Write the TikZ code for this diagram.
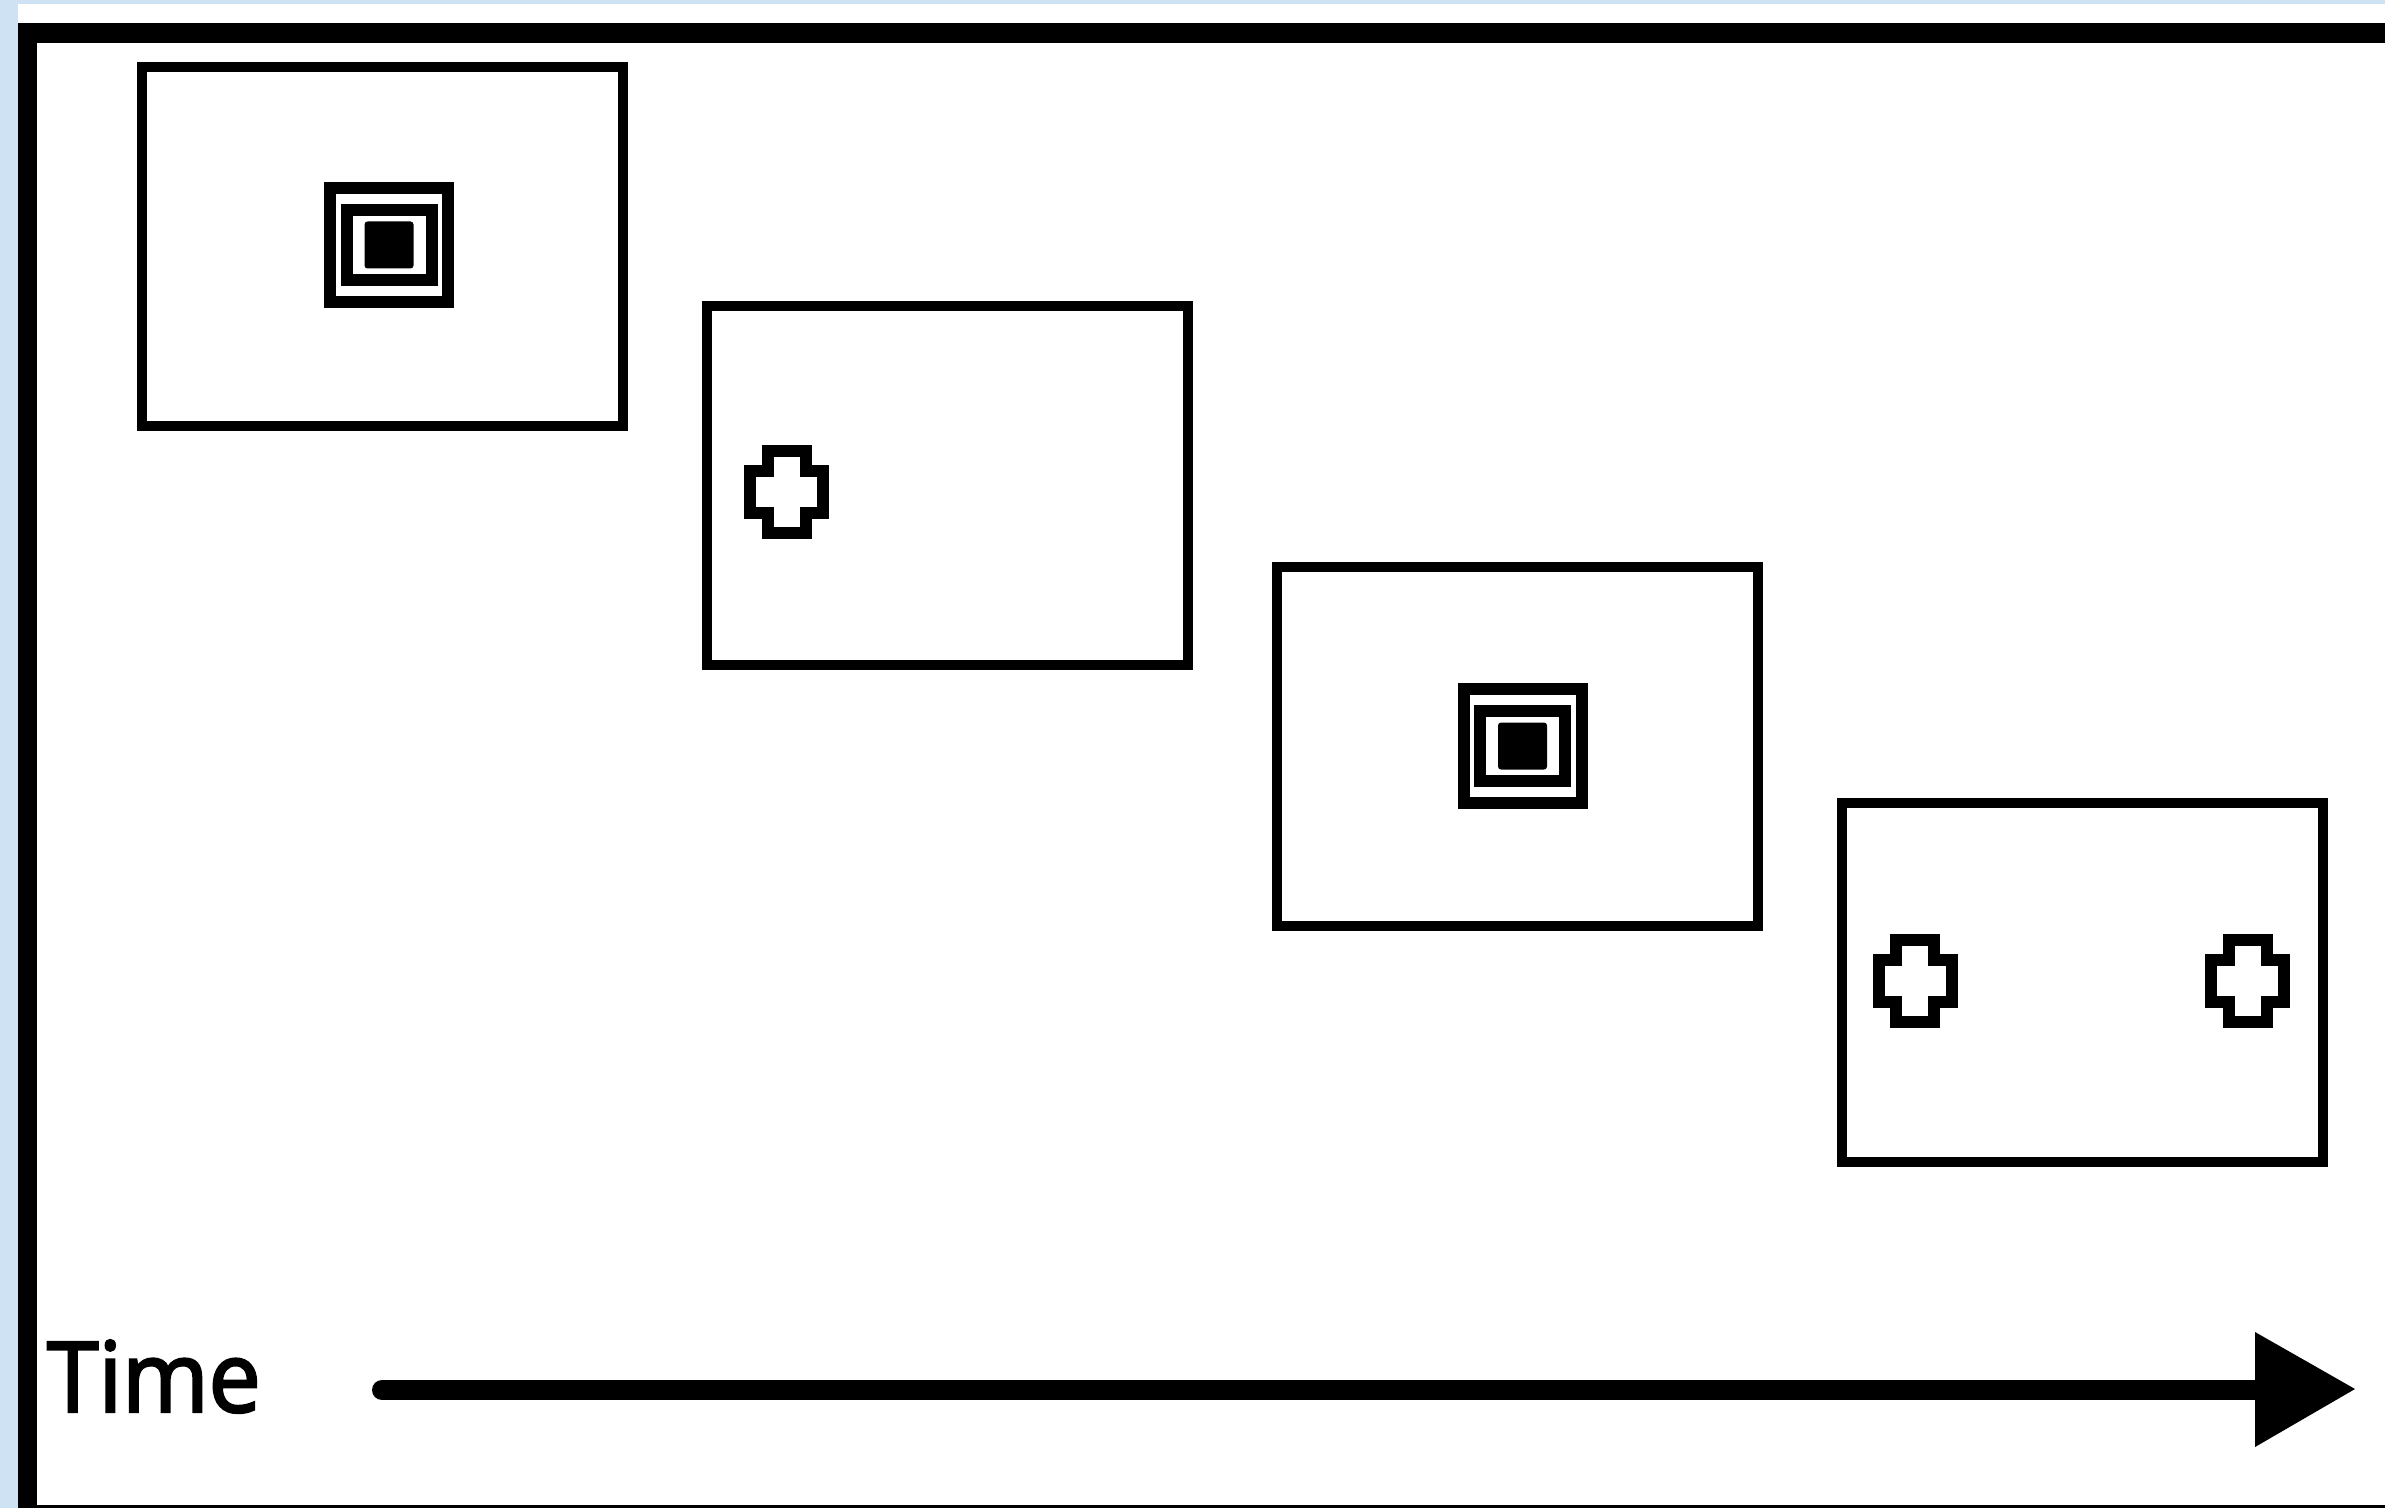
\documentclass[tikz,border=0pt]{standalone}
\usepackage{fontspec}
\setmainfont{Open Sans}
\newfontfamily\timefont[FakeBold=2.5,FakeStretch=0.95]{Open Sans}
\definecolor{bgblue}{RGB}{207,226,243}
\begin{document}
\begin{tikzpicture}[x=0.5pt,y=-0.5pt,
  screen/.style={draw=black, line width=5pt, minimum width=240.5pt, minimum height=179.5pt,
    inner sep=0pt, outer sep=0pt, anchor=north west, fill=white},
  thickline/.style={line width=6pt, draw=black},
  target/.pic={
    \draw[thickline] (-59,-57) rectangle (59,57);
    \draw[thickline] (-42.5,-35) rectangle (42.5,35);
    \fill[black, rounded corners=1.5pt] (-24.5,-23.5) rectangle (24.5,23.5);
  },
  crossmark/.pic={
    \draw[thickline] (-19,-41) -- (19,-41) -- (19,-21) -- (36.5,-21) -- (36.5,21) -- (19,21)
      -- (19,41) -- (-19,41) -- (-19,21) -- (-36.5,21) -- (-36.5,-21) -- (-19,-21) -- cycle;
  },
  timelabel/.style={font=\timefont\fontsize{49}{52}\selectfont, inner sep=0pt, outer sep=0pt, anchor=base west}
]
\useasboundingbox (0,0) rectangle (2385,1508);
% background and frame
\fill[bgblue] (0,0) rectangle (2385,1508);
\fill[white] (18,4) rectangle (2385,1508);
\fill[black] (18,23) rectangle (2385,43);
\fill[black] (18,23) rectangle (37,1508);
\fill[black] (18,1505) rectangle (2385,1508);

% screens
\node[screen] (s1) at (142,67) {};
\node[screen] (s2) at (707,306) {};
\node[screen] (s3) at (1277,567) {};
\node[screen] (s4) at (1842,803) {};

% symbols
\pic (t1) at (389,245) {target};
\pic (c1) at (786.5,492) {crossmark};
\pic (t3) at (1522.5,746) {target};
\pic (c4a) at (1915,981) {crossmark};
\pic (c4b) at (2247.5,981) {crossmark};

% time axis
\node[timelabel] (time) at (47,1412) {Time};
\coordinate (axs) at (382,1390);
\coordinate (axe) at (2355,1389);
\coordinate (axb) at (2262,1390);
\draw[line width=10pt, line cap=round] (axs) -- (axb);
\fill[black] (axe) -- ++(-100,-57) -- ++(0,115) -- cycle;
\end{tikzpicture}
\end{document}
